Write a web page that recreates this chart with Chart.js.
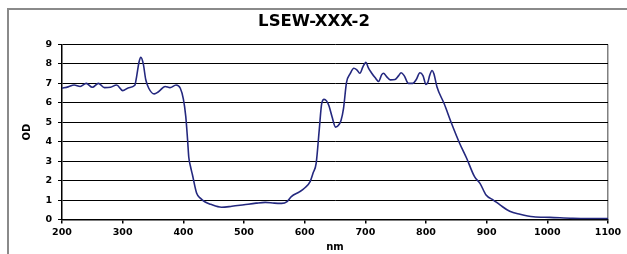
<!DOCTYPE html>
<html>
<head>
<meta charset="utf-8">
<script src="https://cdn.jsdelivr.net/npm/chart.js@4/dist/chart.umd.min.js"></script>
<style>
  html, body { margin: 0; padding: 0; background: #fff; }
  #wrap { position: relative; width: 627px; height: 254px; overflow: hidden; }
  #frame { position: absolute; left: 7px; top: 8px; width: 640px; height: 260px;
           border-left: 2px solid #8a8a8a; border-top: 2px solid #8a8a8a; }
  #c { position: absolute; left: 0; top: 0; }
</style>
</head>
<body>
<div id="wrap">
  <div id="frame"></div>
  <canvas id="c" width="627" height="254"></canvas>
</div>
<script>
var titleText = 'LSEW-XXX-2'
var xTitle = 'nm'
var yTitle = 'OD'
var xTicks = [200, 300, 400, 500, 600, 700, 800, 900, 1000, 1100]
var yTicks = [0, 1, 2, 3, 4, 5, 6, 7, 8, 9]

// wavelength (nm) and optical density
var wavelengths = [
  200, 210, 220, 230, 240, 250, 260, 270, 280, 290,
  300, 310, 320, 323, 327, 330, 334, 338, 343, 352,
  359, 370, 378, 388, 395, 400, 404, 407, 409, 412,
  415, 422, 428, 436, 445, 463, 480, 500, 520, 535,
  550, 562, 571, 578, 592, 600, 609, 614, 619, 624,
  628, 632, 636, 640, 645, 651, 657, 660, 664, 669,
  675, 681, 686, 691, 696, 701, 705, 710, 716, 722,
  727, 730, 735, 741, 749, 755, 759, 764, 771, 778,
  784, 790, 795, 800, 803, 806, 810, 813, 818, 830,
  842, 855, 867, 880, 889, 899, 911, 922, 938, 955,
  977, 1004, 1042, 1070, 1100
]
var od = [
  6.75, 6.82, 6.92, 6.84, 7.0, 6.8, 7.0, 6.78, 6.8, 6.92,
  6.63, 6.78, 6.9, 7.35, 8.1, 8.34, 8.0, 7.2, 6.75, 6.46,
  6.57, 6.84, 6.78, 6.92, 6.75, 6.2, 5.3, 4.1, 3.2, 2.7,
  2.3, 1.35, 1.1, 0.9, 0.78, 0.63, 0.68, 0.76, 0.84, 0.88,
  0.84, 0.83, 0.92, 1.18, 1.43, 1.62, 1.95, 2.4, 2.9, 4.6,
  5.95, 6.18, 6.1, 5.85, 5.3, 4.75, 4.9, 5.1, 5.7, 7.05,
  7.5, 7.78, 7.7, 7.52, 7.85, 8.08, 7.8, 7.55, 7.3, 7.1,
  7.45, 7.52, 7.35, 7.18, 7.2, 7.4, 7.55, 7.4, 7.0, 7.0,
  7.2, 7.55, 7.4, 6.95, 7.05, 7.4, 7.66, 7.5, 6.83, 5.95,
  4.95, 3.95, 3.15, 2.2, 1.86, 1.26, 1.0, 0.75, 0.42, 0.27,
  0.14, 0.11, 0.06, 0.05, 0.05
]

var font = 'DejaVu Sans'
var points = wavelengths.map(function(x, i) { return {x: x, y: od[i]} })

new Chart(document.getElementById('c'), {
  type: 'line',
  data: {
    datasets: [{
      data: points,
      borderColor: '#24287f',
      borderWidth: 1.6,
      pointRadius: 0,
      fill: false,
      cubicInterpolationMode: 'monotone'
    }]
  },
  options: {
    responsive: false,
    animation: false,
    events: [],
    layout: { padding: { left: 20, right: 19, top: 0, bottom: 0 } },
    plugins: {
      legend: { display: false },
      tooltip: { enabled: false },
      title: {
        display: true,
        text: titleText,
        color: '#000',
        font: { family: font, size: 16.5, weight: 'bold' },
        padding: { top: 12.2, bottom: 12.5 }
      }
    },
    scales: {
      x: {
        type: 'linear',
        min: xTicks[0],
        max: xTicks[xTicks.length - 1],
        afterBuildTicks: function(scale) { scale.ticks = xTicks.map(function(v) { return {value: v} }) },
        afterFit: function(scale) { scale.height = 34.5 },
        ticks: {
          color: '#000', font: { family: font, size: 9.5, weight: 'bold' }, padding: 3, maxRotation: 0,
          callback: function(v) { return String(v) }
        },
        grid: {
          color: function(ctx) { return ctx.tick && ctx.tick.value === 1100 ? '#808080' : 'rgba(0,0,0,0)' },
          lineWidth: 1.5,
          tickColor: '#000',
          tickLength: 4
        },
        border: { color: '#000', width: 1.5 },
        title: { display: true, text: xTitle, color: '#000', font: { family: font, size: 10, weight: 'bold' }, padding: { top: 0, bottom: 1 } }
      },
      y: {
        min: yTicks[0],
        max: yTicks[yTicks.length - 1],
        afterBuildTicks: function(scale) { scale.ticks = yTicks.map(function(v) { return {value: v} }) },
        afterFit: function(scale) { scale.width = 42 },
        ticks: { color: '#000', font: { family: font, size: 9.5, weight: 'bold' }, padding: 6 },
        grid: { color: '#000', lineWidth: 1, tickColor: '#000', tickLength: 4 },
        border: { color: '#000', width: 1.5 },
        title: { display: true, text: yTitle, color: '#000', font: { family: font, size: 10, weight: 'bold' }, padding: { top: 1, bottom: 0 } }
      }
    }
  }
})
</script>
</body>
</html>
